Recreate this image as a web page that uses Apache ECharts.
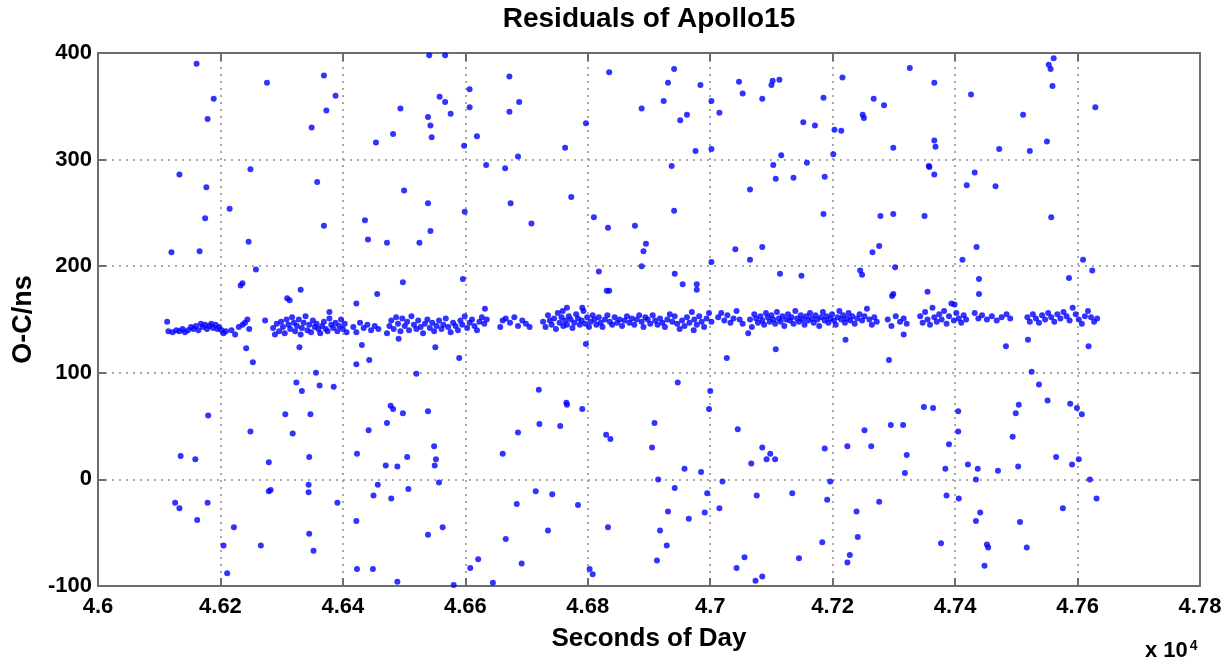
<!DOCTYPE html>
<html>
<head>
<meta charset="utf-8">
<title>Residuals of Apollo15</title>
<script src="https://cdn.jsdelivr.net/npm/echarts@6/dist/echarts.min.js"></script>
<style>
  html, body { margin: 0; padding: 0; background: #fff; }
  #chart { width: 1229px; height: 662px; }
</style>
</head>
<body>
<div id="chart"></div>
<script>
// tick values (seconds of day), labels shown as x 10^4
var xTicks = [46000, 46200, 46400, 46600, 46800, 47000, 47200, 47400, 47600, 47800];
var yTicks = [-100, 0, 100, 200, 300, 400];

// residuals that sit in the dense band around 140-160 ns
var bandPoints = [
  [46113,148],[46115,139],[46122,138],[46128,140],[46133,139],[46138,141],[46142,138],[46147,140],[46152,143],[46156,141],
  [46160,144],[46164,140],[46168,146],[46171,143],[46175,145],[46178,141],[46182,144],[46185,146],[46188,142],[46192,145],
  [46195,141],[46198,143],[46202,140],[46205,137],[46209,139],
  [46218,140],[46224,136],[46230,143],[46236,145],[46240,147],[46244,150],[46247,141],[46273,149],
  [46286,142],[46289,136],[46292,146],[46296,139],[46299,148],[46302,143],[46305,137],[46308,150],[46311,145],[46314,141],
  [46317,152],[46320,147],[46322,139],[46325,144],[46328,150],[46331,136],[46333,142],[46336,147],[46339,153],[46342,140],
  [46345,145],[46348,138],[46351,149],[46354,143],[46357,146],[46360,141],[46363,137],[46366,144],[46369,148],[46372,141],
  [46375,139],[46378,151],[46381,145],[46384,142],[46388,147],[46391,139],[46394,144],[46397,150],[46400,141],[46403,146],[46406,138],
  [46417,143],[46422,138],[46428,147],[46434,142],[46440,145],[46446,140],[46452,144],[46458,141],
  [46472,137],[46476,144],[46479,149],[46483,141],[46487,152],[46490,146],[46494,139],[46497,151],[46501,144],[46505,148],
  [46508,140],[46512,153],[46516,145],[46520,141],[46523,149],[46527,143],[46531,137],[46534,146],[46538,150],[46542,142],
  [46546,147],[46549,139],[46553,144],[46557,149],[46561,141],[46564,145],[46568,151],[46572,143],[46576,138],[46580,147],
  [46584,144],[46588,140],[46592,149],[46595,145],[46599,153],[46603,142],[46607,147],[46611,150],[46615,144],[46619,140],
  [46623,148],[46627,152],[46631,146],[46635,150],
  [46657,143],[46661,149],[46666,151],[46673,147],[46680,152],[46686,144],[46693,149],[46699,146],[46705,143],
  [46727,148],[46731,143],[46735,154],[46738,149],[46741,145],[46745,151],[46748,141],[46751,156],[46754,147],[46757,152],
  [46760,144],[46763,149],[46766,145],[46769,153],[46772,150],[46775,142],[46778,147],[46781,155],[46784,151],[46787,145],
  [46790,149],[46793,158],[46796,146],[46799,152],[46802,143],[46805,148],[46808,154],[46811,150],[46814,145],[46818,152],
  [46821,147],[46824,143],[46828,150],[46832,154],[46836,148],[46840,145],[46844,152],[46848,147],[46852,150],[46856,144],
  [46860,149],[46864,153],[46868,147],[46872,151],[46876,145],[46880,150],[46884,154],
  [46888,148],[46891,143],[46894,152],[46898,150],[46902,146],[46906,154],[46910,149],[46914,145],[46918,151],[46922,147],
  [46926,143],[46930,150],[46934,155],[46938,148],[46942,153],[46946,146],[46950,141],[46954,149],[46958,144],[46962,152],
  [46966,147],[46970,157],[46974,150],[46978,145],[46982,153],[46986,148],[46990,143],[46994,151],[46998,156],[47002,148],
  [47013,152],[47018,156],[47023,149],[47028,154],[47033,147],[47038,151],[47043,158],[47048,150],[47053,146],
  [47065,150],[47068,143],[47072,155],[47075,151],[47078,147],[47082,153],[47085,149],[47088,145],[47091,156],[47094,152],
  [47097,148],[47100,154],[47103,150],[47106,146],[47109,157],[47112,151],[47115,148],[47118,153],[47121,144],[47124,150],
  [47127,155],[47130,149],[47133,152],[47136,146],[47139,158],[47142,151],[47145,148],[47148,154],[47151,150],[47154,145],
  [47157,153],[47160,149],[47163,156],[47166,151],[47169,147],[47172,154],[47175,150],[47178,144],[47181,152],[47184,157],
  [47187,149],[47190,153],[47193,147],[47196,151],[47199,155],[47202,149],[47205,145],[47208,152],[47211,158],[47214,150],
  [47217,154],[47220,147],[47223,151],[47226,156],[47229,149],[47232,153],[47236,146],[47240,151],[47244,155],[47248,149],
  [47252,153],[47256,160],[47260,150],[47264,145],[47268,152],[47272,148],
  [47290,150],[47296,144],[47303,153],[47310,148],[47316,151],[47321,146],
  [47343,153],[47347,147],[47351,157],[47355,150],[47359,145],[47363,161],[47366,152],[47370,148],[47374,155],[47378,150],
  [47382,158],[47386,146],[47390,153],[47394,165],[47398,149],[47402,156],[47406,151],[47410,147],[47414,154],[47418,150],
  [47432,156],[47438,151],[47444,154],[47452,150],[47460,153],[47468,149],[47476,152],[47484,155],[47490,151],
  [47518,152],[47522,148],[47527,155],[47532,151],[47537,147],[47542,154],[47547,150],[47552,156],[47557,152],[47562,148],
  [47567,155],[47572,151],[47577,157],[47582,153],[47587,149],[47592,161],[47597,155],[47602,150],[47607,146],[47612,153],
  [47617,158],[47622,152],[47627,148],[47632,151]
];

// scattered residuals away from the band
var outlierPoints = [
  [46161,390],[46189,357],[46179,338],[46276,372],[46369,379],[46388,360],[46373,346],[46349,330],[46454,316],[46133,286],
  [46177,274],[46215,254],[46175,245],[46249,291],[46358,279],[46369,238],[46436,243],[46441,225],[46120,213],[46166,214],
  [46246,223],[46258,197],[46233,182],[46236,184],[46331,178],[46309,170],[46313,168],[46456,174],[46422,165],[46378,157],
  [46242,123],[46253,110],[46329,124],[46431,126],[46422,108],[46443,112],[46356,100],[46324,91],[46333,83],[46362,88],
  [46385,87],[46180,60],[46306,61],[46347,61],[46249,45],[46318,43],[46442,46],[46135,22],[46159,19],[46279,16],
  [46345,21],[46423,24],[46344,-5],[46344,-12],[46279,-11],[46282,-10],[46457,-5],[46450,-15],[46126,-22],[46133,-27],
  [46179,-22],[46162,-38],[46391,-22],[46422,-39],[46222,-45],[46345,-51],[46205,-62],[46266,-62],[46352,-67],[46211,-88],
  [46423,-84],[46449,-84],
  [46541,398],[46567,398],[46494,348],[46482,324],[46558,359],[46567,354],[46539,340],[46543,332],[46545,321],[46576,343],
  [46607,366],[46607,349],[46598,313],[46619,322],[46672,378],[46672,345],[46688,354],[46686,303],[46634,295],[46665,292],
  [46763,311],[46797,334],[46835,382],[46888,348],[46500,271],[46539,259],[46543,233],[46472,222],[46525,222],[46599,251],
  [46674,259],[46773,265],[46708,240],[46810,246],[46833,236],[46877,238],[46895,221],[46891,214],[46888,200],[46818,195],
  [46498,185],[46596,188],[46831,177],[46835,177],[46632,160],[46759,158],[46766,161],[46791,161],
  [46491,132],[46551,124],[46590,114],[46797,127],[46520,99],[46478,69],[46482,66],[46498,62],[46539,64],[46472,53],
  [46549,31],[46505,21],[46552,19],[46550,13],[46470,13],[46489,12],[46507,-9],[46557,-3],[46479,-18],[46563,-45],
  [46539,-52],[46489,-96],[46581,-99],[46720,84],[46765,72],[46766,70],[46791,66],[46721,52],[46755,50],[46686,44],
  [46661,24],[46830,42],[46837,38],[46905,30],[46715,-11],[46742,-14],[46684,-23],[46784,-24],[46833,-45],[46735,-48],
  [46666,-56],[46621,-75],[46608,-83],[46692,-79],[46645,-97],[46803,-84],[46808,-89],
  [46941,385],[46931,372],[46924,355],[46951,337],[46962,342],[46984,370],[47002,355],[47015,344],[46976,308],[47002,310],
  [46937,294],[46941,252],[46942,193],[46955,183],[46978,183],[46978,178],[47002,204],[47047,373],[47053,362],[47085,357],
  [47100,370],[47102,374],[47113,375],[47185,358],[47152,335],[47171,332],[47203,328],[47214,327],[47216,377],[47201,305],
  [47116,304],[47103,295],[47158,297],[47107,282],[47136,283],[47187,284],[47065,272],[47185,249],[47041,216],[47085,218],
  [47065,206],[47114,193],[47149,191],[47245,196],[47248,192],[47265,213],[47276,219],[47278,247],[47299,249],[47350,247],
  [47267,357],[47284,351],[47249,342],[47251,339],[47326,386],[47299,311],[47357,294],[47302,199],[47299,174],[47297,172],
  [47355,176],
  [47062,137],[46973,140],[47107,122],[47027,114],[47221,131],[47292,112],[47316,136],[46947,91],[47000,83],[46998,66],
  [46909,53],[47045,47],[47085,30],[47098,24],[47092,19],[47106,19],[47067,15],[46958,10],[46985,7],[46915,0],
  [46942,-8],[46995,-13],[47020,-2],[47076,-15],[47134,-13],[47187,29],[47196,-2],[47191,-19],[47224,31],[47252,46],
  [47263,31],[47295,51],[47315,51],[47321,23],[47318,6],[47349,68],[47239,-30],[47276,-21],[46931,-30],[46965,-37],
  [46991,-31],[47015,-27],[46918,-48],[46929,-62],[46913,-76],[47043,-83],[47056,-73],[47074,-95],[47085,-91],[47145,-74],
  [47183,-59],[47241,-54],[47228,-71],[47224,-78],
  [47366,372],[47366,318],[47368,312],[47358,293],[47366,286],[47426,361],[47472,310],[47432,288],[47419,276],[47466,275],
  [47511,342],[47522,308],[47550,317],[47553,389],[47556,385],[47561,395],[47559,369],[47557,246],[47629,349],[47435,218],
  [47412,206],[47439,188],[47439,174],[47609,206],[47624,196],[47586,189],[47399,164],
  [47483,125],[47519,131],[47618,125],[47525,101],[47537,89],[47551,74],[47588,71],[47599,67],[47607,61],[47364,67],
  [47405,64],[47504,70],[47499,62],[47405,45],[47390,33],[47494,40],[47384,10],[47421,14],[47437,10],[47470,8],
  [47503,12],[47434,0],[47565,21],[47602,19],[47591,14],[47620,0],[47386,-15],[47406,-18],[47631,-18],[47576,-27],
  [47441,-31],[47434,-39],[47506,-40],[47377,-60],[47452,-61],[47454,-64],[47517,-64],[47448,-81]
];

var font = '"Liberation Sans", Arial, sans-serif';
var frameColor = '#6e6e6e';
var dotBlue = '#0000ff';

var chart = echarts.init(document.getElementById('chart'));

// 4.6, 4.62 ... (value / 1e4, trailing zeros dropped)
function xLabel(v) {
  return String(parseFloat((v / 10000).toFixed(2)));
}

var frameLine = { show: true, onZero: false, lineStyle: { color: frameColor, width: 2 } };
var frameTick = { show: true, inside: true, length: 8, lineStyle: { color: frameColor, width: 2 } };
var gridDots = { show: true, lineStyle: { color: '#8c8c8c', type: [2, 5], width: 1.5 } };

var option = {
  animation: false,
  backgroundColor: '#fff',
  grid: { left: 98, top: 53, right: 29, bottom: 76 },
  xAxis: [
    {
      type: 'value',
      min: xTicks[0],
      max: xTicks[xTicks.length - 1],
      interval: 200,
      position: 'bottom',
      axisLine: frameLine,
      axisTick: frameTick,
      axisLabel: {
        formatter: xLabel,
        color: '#000',
        fontFamily: font,
        fontWeight: 'bold',
        fontSize: 22,
        margin: 10
      },
      splitLine: gridDots,
      name: 'Seconds of Day',
      nameLocation: 'middle',
      nameGap: 40,
      nameTextStyle: { color: '#000', fontFamily: font, fontWeight: 'bold', fontSize: 26 }
    },
    {
      type: 'value',
      min: xTicks[0],
      max: xTicks[xTicks.length - 1],
      interval: 200,
      position: 'top',
      axisLine: frameLine,
      axisTick: frameTick,
      axisLabel: { show: false },
      splitLine: { show: false }
    }
  ],
  yAxis: [
    {
      type: 'value',
      min: yTicks[0],
      max: yTicks[yTicks.length - 1],
      interval: 100,
      position: 'left',
      axisLine: frameLine,
      axisTick: frameTick,
      axisLabel: {
        color: '#000',
        fontFamily: font,
        fontWeight: 'bold',
        fontSize: 22,
        margin: 6
      },
      splitLine: gridDots,
      name: 'O-C/ns',
      nameLocation: 'middle',
      nameGap: 55,
      nameTextStyle: { color: '#000', fontFamily: font, fontWeight: 'bold', fontSize: 27 }
    },
    {
      type: 'value',
      min: yTicks[0],
      max: yTicks[yTicks.length - 1],
      interval: 100,
      position: 'right',
      axisLine: frameLine,
      axisTick: frameTick,
      axisLabel: { show: false },
      splitLine: { show: false }
    }
  ],
  graphic: [
    {
      type: 'text',
      x: 649,
      y: 5,
      style: {
        text: 'Residuals of Apollo15',
        fill: '#000',
        font: 'bold 28px ' + font,
        textAlign: 'center'
      }
    },
    {
      type: 'text',
      x: 1145,
      y: 630,
      style: {
        text: '{b|x 10}{s|4}',
        rich: {
          b: { fill: '#000', font: 'bold 22px ' + font, padding: [10, 0, 0, 0] },
          s: { fill: '#000', font: 'bold 14px ' + font, padding: [0, 0, 0, 2] }
        }
      }
    }
  ],
  series: [
    {
      name: 'band',
      type: 'scatter',
      symbol: 'circle',
      symbolSize: 6,
      itemStyle: { color: dotBlue },
      data: bandPoints
    },
    {
      name: 'outliers',
      type: 'scatter',
      symbol: 'circle',
      symbolSize: 6,
      itemStyle: { color: dotBlue },
      data: outlierPoints
    }
  ]
};

chart.setOption(option);
</script>
</body>
</html>
